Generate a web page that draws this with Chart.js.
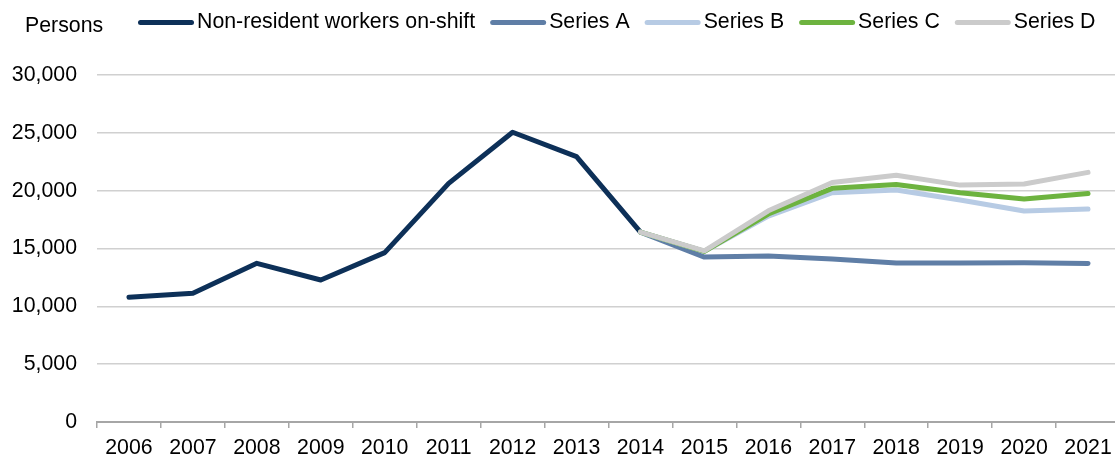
<!DOCTYPE html>
<html>
<head>
<meta charset="utf-8">
<script src="https://cdn.jsdelivr.net/npm/chart.js@4.4.1/dist/chart.umd.min.js"></script>
<style>
  html, body { margin: 0; padding: 0; background: #fff; overflow: hidden; }
  #wrap { width: 1120px; height: 457px; }
</style>
</head>
<body>
<div id="wrap"><canvas id="workersChart" width="1120" height="457"></canvas></div>
<script>
// chart data
const years = ['2006', '2007', '2008', '2009', '2010', '2011', '2012', '2013',
               '2014', '2015', '2016', '2017', '2018', '2019', '2020', '2021'];
const onShift = [10780, 11130, 13720, 12280, 14640, 20630, 25050, 22940,
                 16420, null, null, null, null, null, null, null];
const seriesA = [null, null, null, null, null, null, null, null,
                 16420, 14260, 14350, 14100, 13740, 13750, 13760, 13700];
const seriesB = [null, null, null, null, null, null, null, null,
                 16420, 14750, 17800, 19820, 20050, 19190, 18240, 18410];
const seriesC = [null, null, null, null, null, null, null, null,
                 16420, 14750, 17980, 20200, 20540, 19820, 19270, 19760];
const seriesD = [null, null, null, null, null, null, null, null,
                 16420, 14800, 18260, 20710, 21340, 20480, 20570, 21580];
const yTicks = [0, 5000, 10000, 15000, 20000, 25000, 30000];

const FONT = '"Liberation Sans", Arial, sans-serif';
const FONT_SIZE = 21.3;

// "Persons" caption plus a line-style legend across the top
const topLegend = {
    id: 'topLegend',
    afterDraw(chart) {
        const ctx = chart.ctx;
        ctx.save();
        ctx.font = FONT_SIZE + 'px ' + FONT;
        ctx.fillStyle = '#000';
        ctx.textBaseline = 'middle';
        ctx.textAlign = 'left';
        ctx.fillText('Persons', 25, 26);

        let x = 138;
        const y = 22.5;
        chart.data.datasets.forEach(function(ds) {
            ctx.strokeStyle = ds.borderColor;
            ctx.lineWidth = 5;
            ctx.lineCap = 'round';
            ctx.beginPath();
            ctx.moveTo(x + 2.5, y);
            ctx.lineTo(x + 53.5, y);
            ctx.stroke();
            x += 59;
            ctx.fillStyle = '#000';
            ctx.fillText(ds.label, x, y);
            x += ctx.measureText(ds.label).width + 15;
        });
        ctx.restore();
    }
};

function lineSet(label, data, color, order) {
    return {
        label: label,
        data: data,
        borderColor: color,
        backgroundColor: color,
        borderWidth: 5,
        pointRadius: 0,
        pointHoverRadius: 0,
        tension: 0,
        borderJoinStyle: 'round',
        borderCapStyle: 'round',
        spanGaps: false,
        order: order
    };
}

const ctx = document.getElementById('workersChart').getContext('2d');
const chart = new Chart(ctx, {
    type: 'line',
    data: {
        labels: years,
        datasets: [
            lineSet('Non-resident workers on-shift', onShift, '#0d3058', 5),
            lineSet('Series A', seriesA, '#5f7ea6', 4),
            lineSet('Series B', seriesB, '#b7cbe4', 3),
            lineSet('Series C', seriesC, '#6db33f', 2),
            lineSet('Series D', seriesD, '#cbcbcb', 1)
        ]
    },
    options: {
        responsive: false,
        animation: false,
        layout: { padding: { top: 75, right: 0, bottom: 0, left: 0 } },
        plugins: {
            legend: { display: false },
            tooltip: { enabled: false }
        },
        scales: {
            x: {
                offset: true,
                grid: {
                    offset: true,
                    drawOnChartArea: false,
                    drawTicks: true,
                    tickLength: 6,
                    color: '#a6a6a6',
                    lineWidth: 1.5
                },
                border: { display: true, color: '#a6a6a6', width: 2 },
                ticks: {
                    color: '#000',
                    font: { family: FONT, size: FONT_SIZE },
                    padding: 7,
                    maxRotation: 0,
                    autoSkip: false
                },
                afterFit: function(scale) { scale.height = 35; }
            },
            y: {
                min: 0,
                max: 30000,
                afterBuildTicks: function(scale) {
                    scale.ticks = yTicks.map(function(v) { return { value: v }; });
                },
                grid: {
                    drawTicks: false,
                    color: '#d0d0d0',
                    lineWidth: 1.5
                },
                border: { display: false },
                ticks: {
                    color: '#000',
                    font: { family: FONT, size: FONT_SIZE },
                    padding: 20,
                    callback: function(v) { return v.toLocaleString('en-US'); }
                },
                afterFit: function(scale) { scale.width = 97; }
            }
        }
    },
    plugins: [topLegend]
});
</script>
</body>
</html>
